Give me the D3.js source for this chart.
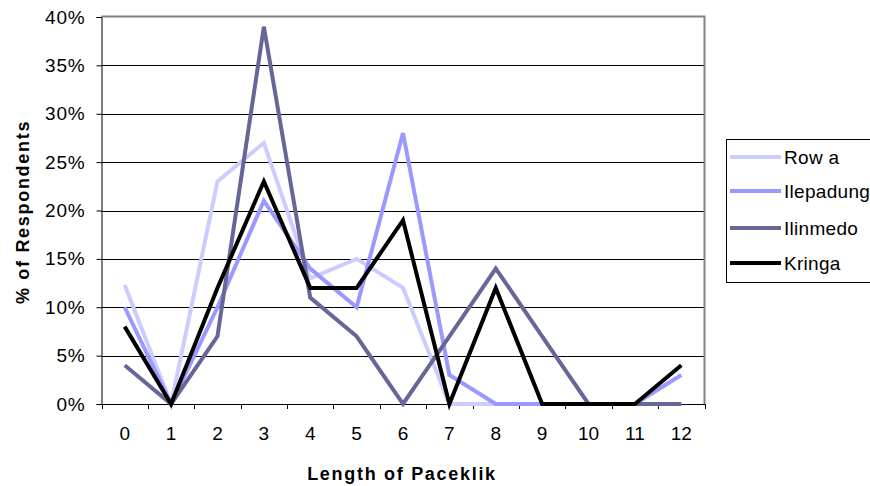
<!DOCTYPE html>
<html>
<head>
<meta charset="utf-8">
<script src="https://cdn.jsdelivr.net/npm/d3@7"></script>
<style>
  body { margin: 0; background: #fff; }
  text { font-family: "Liberation Sans", Arial, sans-serif; }
</style>
</head>
<body>
<div id="chart"></div>
<script>
// data
var categories = ['0','1','2','3','4','5','6','7','8','9','10','11','12'];
var seriesNames = ['Row a', 'Ilepadung', 'Ilinmedo', 'Kringa'];
var rowa      = [12.3, 0, 23, 27, 13, 15, 12, 0, 0, 0, 0, 0, 0];
var ilepadung = [10, 0, 10, 21, 14, 10, 28, 3, 0, 0, 0, 0, 3];
var ilinmedo  = [4, 0, 7, 39, 11, 7, 0, 7, 14, 7, 0, 0, 0];
var kringa    = [8, 0, 12, 23, 12, 12, 19, 0, 12, 0, 0, 0, 4];
var yTicks = [0, 5, 10, 15, 20, 25, 30, 35, 40];

var colors = ['#ccccff', '#9999ff', '#666699', '#000000'];
var allSeries = [rowa, ilepadung, ilinmedo, kringa];

var W = 870, H = 486;
var plot = { left: 101.5, top: 17, right: 704.5, bottom: 404 };
var font = '"Liberation Sans", Arial, sans-serif';

var svg = d3.select('#chart').append('svg')
    .attr('width', W).attr('height', H);

var x = d3.scaleBand()
    .domain(categories)
    .range([plot.left, plot.right]);

var y = d3.scaleLinear()
    .domain([0, 40])
    .range([plot.bottom, plot.top]);

// gridlines
svg.append('g').selectAll('line')
    .data(yTicks.filter(d => d > 0 && d < 40))
    .enter().append('line')
    .attr('x1', plot.left).attr('x2', plot.right)
    .attr('y1', d => Math.round(y(d)) + 0.5).attr('y2', d => Math.round(y(d)) + 0.5)
    .attr('stroke', '#000').attr('stroke-width', 1);

// plot border top/right (grey)
svg.append('path')
    .attr('d', 'M' + plot.left + ',' + (plot.top - 0.5) + 'H' + plot.right + 'V' + plot.bottom)
    .attr('fill', 'none').attr('stroke', '#808080').attr('stroke-width', 2);

// y axis
var yAxis = d3.axisLeft(y)
    .tickValues(yTicks)
    .tickFormat(d => d + '%')
    .tickSize(5)
    .tickPadding(11);
var gy = svg.append('g')
    .attr('transform', 'translate(' + plot.left + ',0)')
    .call(yAxis);
gy.select('.domain').attr('stroke', '#000');
gy.selectAll('text').attr('font-size', 19).attr('fill', '#000')
    .attr('letter-spacing', 0.8)
    .style('font-family', font);

// x axis: ticks between categories
var xAxis = d3.axisBottom(x).tickSize(0).tickPadding(23);
var gx = svg.append('g')
    .attr('transform', 'translate(0,' + plot.bottom + ')')
    .call(xAxis);
gx.select('.domain').attr('stroke', '#000');
gx.selectAll('text').attr('font-size', 19).attr('fill', '#000')
    .style('font-family', font);
gx.append('g').selectAll('line')
    .data(categories.concat(['end']))
    .enter().append('line')
    .attr('x1', (d, i) => Math.round(plot.left + i * x.step()) + 0.5)
    .attr('x2', (d, i) => Math.round(plot.left + i * x.step()) + 0.5)
    .attr('y1', 0).attr('y2', 5)
    .attr('stroke', '#000');

// lines
var line = d3.line()
    .x((d, i) => x(categories[i]) + x.bandwidth() / 2)
    .y(d => y(d));

svg.append('g').selectAll('path')
    .data(allSeries)
    .enter().append('path')
    .attr('d', line)
    .attr('fill', 'none')
    .attr('stroke', (d, i) => colors[i])
    .attr('stroke-width', 4)
    .attr('stroke-linejoin', 'miter');

// axis titles
svg.append('text')
    .attr('x', 402)
    .attr('y', 480)
    .attr('text-anchor', 'middle')
    .attr('font-size', 18).attr('font-weight', 'bold')
    .attr('letter-spacing', 1.7)
    .text('Length of Paceklik');

svg.append('text')
    .attr('transform', 'translate(29,212) rotate(-90)')
    .attr('text-anchor', 'middle')
    .attr('font-size', 18).attr('font-weight', 'bold')
    .attr('letter-spacing', 1.7)
    .text('% of Respondents');

// legend
var legend = svg.append('g');
legend.append('rect')
    .attr('x', 726.5).attr('y', 139.5)
    .attr('width', 150).attr('height', 143)
    .attr('fill', '#fff').attr('stroke', '#000').attr('stroke-width', 1);
var entryY = [157, 191, 228, 263];
var items = legend.selectAll('g.item')
    .data(seriesNames)
    .enter().append('g')
    .attr('transform', (d, i) => 'translate(0,' + entryY[i] + ')');
items.append('line')
    .attr('x1', 730).attr('x2', 781)
    .attr('y1', 0).attr('y2', 0)
    .attr('stroke', (d, i) => colors[i])
    .attr('stroke-width', 4);
items.append('text')
    .attr('x', 784).attr('y', 7)
    .attr('font-size', 19)
    .attr('letter-spacing', 0.3)
    .text(d => d);
</script>
</body>
</html>
